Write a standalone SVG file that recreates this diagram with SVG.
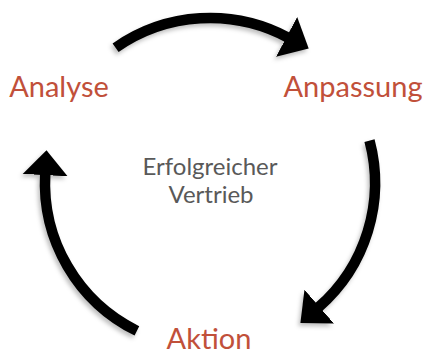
<svg xmlns="http://www.w3.org/2000/svg" width="425" height="354" viewBox="0 0 425 354">
  <style>
    .lbl { font-family: Lato, "Open Sans", "Liberation Sans", sans-serif; font-size: 29px; fill: #c1503a; text-anchor: middle; }
    .ctr { font-family: Lato, "Open Sans", "Liberation Sans", sans-serif; font-size: 24px; fill: #595959; text-anchor: middle; }
    .arc { fill: none; stroke: #000; stroke-width: 10.5; stroke-linecap: butt; marker-end: url(#head); }
  </style>
  <defs>
    <marker id="head" markerUnits="userSpaceOnUse" viewBox="0 -23 26 46" markerWidth="26" markerHeight="46" refX="1" refY="0" orient="auto">
      <path d="M0,-22.5 L25,0 L0,22.5 Z" fill="#000"/>
    </marker>
    <filter id="shadow" x="-20%" y="-20%" width="140%" height="140%">
      <feDropShadow dx="-2" dy="3" stdDeviation="2" flood-color="#000" flood-opacity="0.25"/>
    </filter>
  </defs>
  <g id="connectors" filter="url(#shadow)">
    <path id="arrow-analyse-anpassung" class="arc" d="M115.6,47.7 A165,165 0 0 1 287.5,37.3"/>
    <path id="arrow-anpassung-aktion" class="arc" d="M369.5,140.6 A165,165 0 0 1 318.5,307.3"/>
    <path id="arrow-aktion-analyse" class="arc" d="M136.9,330.9 A165,165 0 0 1 45.2,174.1"/>
  </g>
  <g id="node-analyse"><text class="lbl" x="59" y="97">Analyse</text></g>
  <g id="node-anpassung"><text class="lbl" x="353" y="97">Anpassung</text></g>
  <g id="node-aktion"><text class="lbl" x="209" y="349">Aktion</text></g>
  <g id="node-center">
    <text class="ctr" x="210" y="175">Erfolgreicher</text>
    <text class="ctr" x="211" y="203">Vertrieb</text>
  </g>
</svg>
